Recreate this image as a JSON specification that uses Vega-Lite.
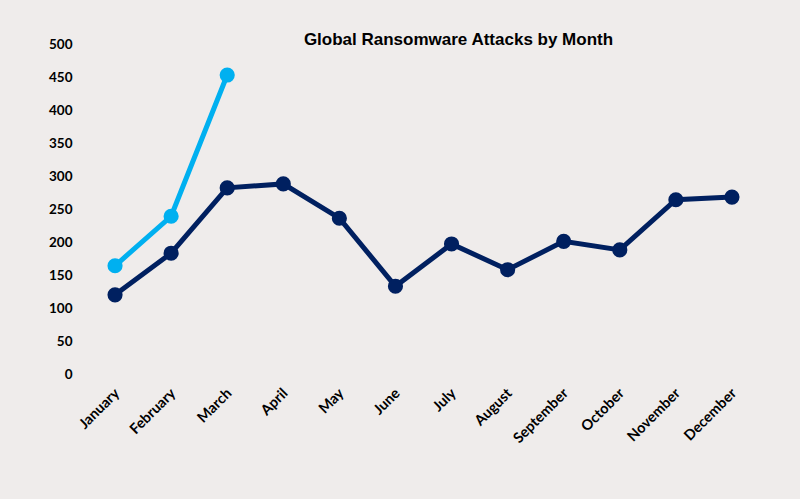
{
  "$schema": "https://vega.github.io/schema/vega-lite/v6.json",
  "autosize": "none",
  "width": 673,
  "height": 330,
  "padding": {"left": 87, "top": 44, "right": 40, "bottom": 125},
  "background": "#efeceb",
  "title": {
    "text": "Global Ransomware Attacks by Month",
    "font": "Liberation Sans",
    "fontSize": 17,
    "fontWeight": "bold",
    "color": "#000000",
    "anchor": "middle",
    "dx": 35,
    "offset": -12
  },
  "config": {
    "view": {"stroke": null},
    "axis": {"grid": false, "domain": false, "ticks": false, "labelFont": "Lato", "labelFontWeight": "bold", "labelFontSize": 13.5, "labelColor": "#000000", "title": null}
  },
  "data": {
    "values": [
      {"month": "January", "series": "Prior", "attacks": 120},
      {"month": "February", "series": "Prior", "attacks": 183},
      {"month": "March", "series": "Prior", "attacks": 282},
      {"month": "April", "series": "Prior", "attacks": 288},
      {"month": "May", "series": "Prior", "attacks": 236},
      {"month": "June", "series": "Prior", "attacks": 133},
      {"month": "July", "series": "Prior", "attacks": 197},
      {"month": "August", "series": "Prior", "attacks": 158},
      {"month": "September", "series": "Prior", "attacks": 201},
      {"month": "October", "series": "Prior", "attacks": 188},
      {"month": "November", "series": "Prior", "attacks": 264},
      {"month": "December", "series": "Prior", "attacks": 268},
      {"month": "January", "series": "Current", "attacks": 164},
      {"month": "February", "series": "Current", "attacks": 239},
      {"month": "March", "series": "Current", "attacks": 453}
    ]
  },
  "mark": {"type": "line", "strokeWidth": 5, "point": {"filled": true, "size": 230, "opacity": 1}},
  "encoding": {
    "x": {
      "field": "month",
      "type": "ordinal",
      "sort": ["January","February","March","April","May","June","July","August","September","October","November","December"],
      "scale": {"type": "point", "padding": 0.5},
      "axis": {"labelAngle": -45, "labelPadding": 12, "labelFontSize": 14.5, "labelOffset": -3}
    },
    "y": {
      "field": "attacks",
      "type": "quantitative",
      "scale": {"domain": [0, 500]},
      "axis": {"values": [0,50,100,150,200,250,300,350,400,450,500], "labelPadding": 15}
    },
    "color": {
      "field": "series",
      "type": "nominal",
      "scale": {"domain": ["Prior", "Current"], "range": ["#002060", "#00b0f0"]},
      "legend": null
    }
  }
}
